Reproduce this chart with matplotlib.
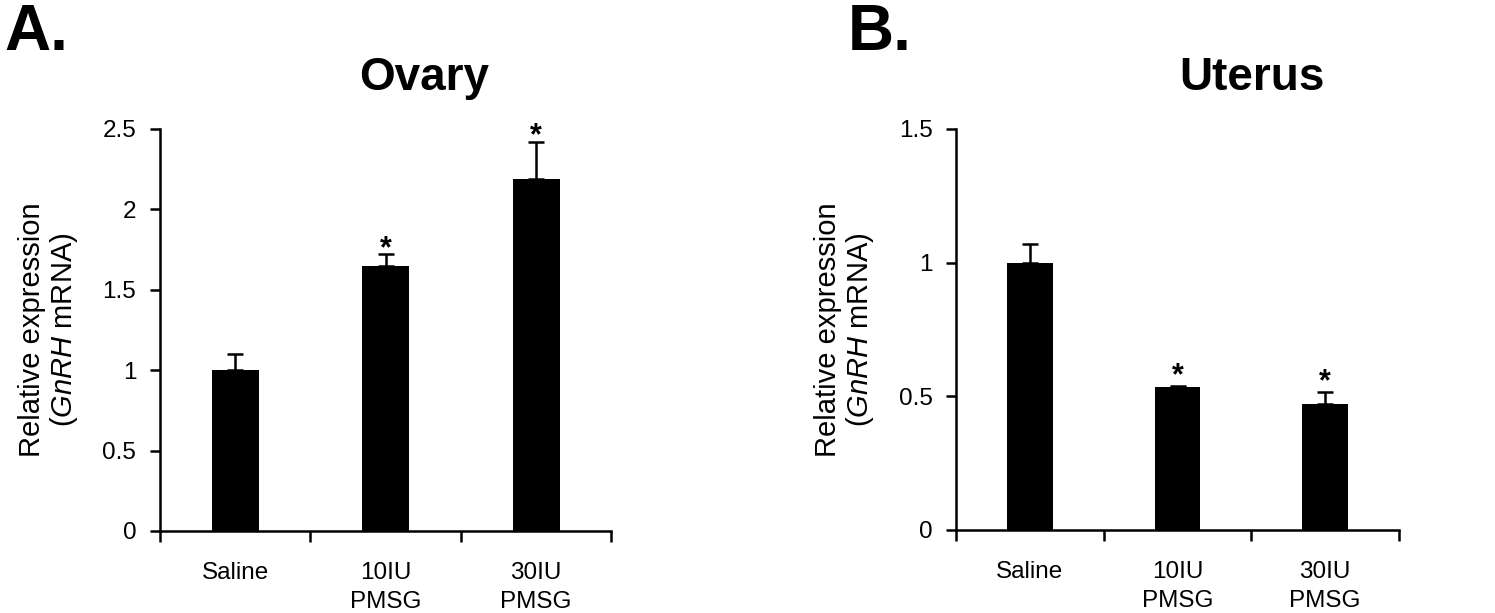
import numpy as np
import matplotlib
matplotlib.use("Agg")
import matplotlib.pyplot as plt

plt.rcParams['font.family'] = ['Liberation Sans', 'DejaVu Sans']
plt.rcParams['mathtext.fontset'] = 'custom'
plt.rcParams['mathtext.it'] = 'Liberation Sans:italic'
plt.rcParams['mathtext.rm'] = 'Liberation Sans'

groups = ["Saline", "10IU\nPMSG", "30IU\nPMSG"]

ovary_mean = [1.00, 1.65, 2.19]
ovary_err = [0.10, 0.07, 0.23]
ovary_sig = ["", "*", "*"]

uterus_mean = [1.00, 0.535, 0.472]
uterus_err = [0.07, 0.005, 0.045]
uterus_sig = ["", "*", "*"]

ylabel = "Relative expression\n($\\mathit{GnRH}$ mRNA)"

fig = plt.figure(figsize=(14.95, 6.13), dpi=100)
axA = fig.add_axes([0.107, 0.1338, 0.302, 0.656])
axB = fig.add_axes([0.6395, 0.1354, 0.2963, 0.6542])


def panel(ax, mean, err, sig, ymax, ystep, star_off):
    x = np.arange(len(groups))
    ax.bar(x, mean, width=0.31, color="black", zorder=2)
    ax.errorbar(x, mean, yerr=[np.zeros(len(err)), err], fmt="none",
                ecolor="black", elinewidth=1.8, capsize=6, capthick=1.8, zorder=1)
    for xi, m, e, s in zip(x, mean, err, sig):
        if s:
            ax.text(xi, m + e + star_off, s, ha="center", va="bottom",
                    fontsize=22, fontweight="bold")
    ax.set_xlim(-0.5, 2.5)
    ax.set_ylim(0, ymax)
    yt = np.arange(0, ymax + 1e-9, ystep)
    ax.set_yticks(yt)
    ax.set_yticklabels(["%g" % v for v in yt], fontsize=17.5)
    ax.set_xticks([-0.5, 0.5, 1.5, 2.5])
    ax.set_xticklabels([])
    ax.set_xticks(x, minor=True)
    ax.set_xticklabels(groups, minor=True, fontsize=17.5, linespacing=1.45)
    ax.tick_params(axis="x", which="major", direction="out", length=8, width=1.8)
    ax.tick_params(axis="x", which="minor", length=0, pad=22)
    ax.tick_params(axis="y", direction="out", length=7, width=1.8, pad=10)
    for s in ["top", "right"]:
        ax.spines[s].set_visible(False)
    for s in ["left", "bottom"]:
        ax.spines[s].set_linewidth(1.8)
    ax.set_ylabel(ylabel, fontsize=21, linespacing=1.1, labelpad=16)


panel(axA, ovary_mean, ovary_err, ovary_sig, 2.5, 0.5, -0.06)
panel(axB, uterus_mean, uterus_err, uterus_sig, 1.5, 0.5, -0.02)

fig.text(0.003, 0.995, "A.", fontsize=46, fontweight="bold", va="top", ha="left")
fig.text(0.567, 0.995, "B.", fontsize=46, fontweight="bold", va="top", ha="left")
fig.text(0.2836, 0.873, "Ovary", fontsize=33, fontweight="bold", ha="center", va="center")
fig.text(0.8375, 0.873, "Uterus", fontsize=33, fontweight="bold", ha="center", va="center")

fig.savefig("out.png", dpi=100)
